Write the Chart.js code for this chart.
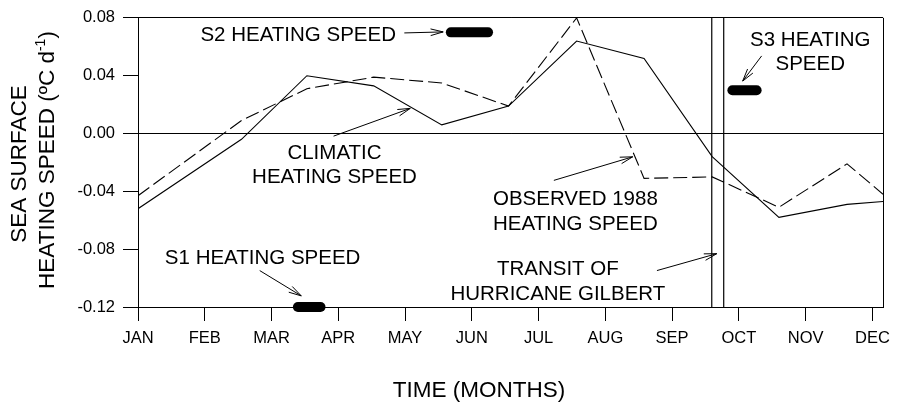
<!DOCTYPE html>
<html>
<head>
<meta charset="utf-8">
<script src="https://cdn.jsdelivr.net/npm/chart.js@4/dist/chart.umd.min.js"></script>
<style>
  html, body { margin: 0; padding: 0; background: #fff; }
  #wrap { width: 898px; height: 403px; }
</style>
</head>
<body>
<div id="wrap"><canvas id="c" width="898" height="403"></canvas></div>
<script>
// Month ticks along the time axis (0 = JAN ... 11 = DEC)
const monthLabels = ['JAN', 'FEB', 'MAR', 'APR', 'MAY', 'JUN', 'JUL', 'AUG', 'SEP', 'OCT', 'NOV', 'DEC'];
const timeMin = 0;
const timeMax = 11.16;

// Sample times (in months) shared by both heating-speed curves
const sampleTimes = [0, 1.55, 2.53, 3.53, 4.55, 5.55, 6.57, 7.58, 8.6, 9.6, 10.62, 11.16];

// Sea surface heating speed, degC per day
const climaticSpeed = [-0.052, -0.004, 0.040, 0.033, 0.006, 0.019, 0.064, 0.052, -0.016, -0.058, -0.049, -0.047];
const observed1988Speed = [-0.043, 0.009, 0.031, 0.039, 0.035, 0.019, 0.080, -0.031, -0.030, -0.051, -0.021, -0.042];

// Vertical axis ticks
const speedTicks = [-0.12, -0.08, -0.04, 0.00, 0.04, 0.08];

// Heating speeds of the three sub-periods: [start, end] in months and value
const s1Period = [2.395, 2.734];
const s1Speed = -0.12;
const s2Period = [4.686, 5.243];
const s2Speed = 0.070;
const s3Period = [8.903, 9.266];
const s3Speed = 0.030;

// Transit of Hurricane Gilbert: start and end of the band, in months
const gilbertTransit = [8.594, 8.773];

const FONT = '"Liberation Sans", Arial, Helvetica, sans-serif';

const toPoints = (xs, ys) => xs.map((x, i) => ({ x, y: ys[i] }));
const spanPoints = (span, v) => [{ x: span[0], y: v }, { x: span[1], y: v }];

// Callout labels (anchor in data units: month, speed) and arrows
const callouts = [
  { lines: ['S2 HEATING SPEED'], at: [2.40, 0.064] },
  { lines: ['S1 HEATING SPEED'], at: [1.867, -0.090] },
  { lines: ['CLIMATIC', 'HEATING SPEED'], at: [2.943, -0.0176] },
  { lines: ['OBSERVED 1988', 'HEATING SPEED'], at: [6.551, -0.0496] },
  { lines: ['TRANSIT OF', 'HURRICANE GILBERT'], at: [6.289, -0.0982] },
  { lines: ['S3 HEATING', 'SPEED'], at: [10.069, 0.0606] }
];
const arrows = [
  { from: [3.989, 0.0696], to: [4.571, 0.0703] },
  { from: [1.823, -0.0948], to: [2.445, -0.1123] },
  { from: [2.929, -0.0018], to: [4.078, 0.0174] },
  { from: [6.229, -0.0324], to: [7.410, -0.0161] },
  { from: [7.773, -0.0948], to: [8.669, -0.0831] },
  { from: [9.341, 0.0537], to: [9.057, 0.0363] }
];

const decorations = {
  id: 'decorations',
  afterDatasetsDraw(chart) {
    const { ctx, chartArea: a, scales: { x, y } } = chart;
    ctx.save();
    // right edge of the frame
    ctx.strokeStyle = '#000';
    ctx.lineWidth = 1;
    ctx.beginPath();
    ctx.moveTo(Math.round(a.right) + 0.5, a.top);
    ctx.lineTo(Math.round(a.right) + 0.5, a.bottom);
    ctx.stroke();

    // callout text
    ctx.fillStyle = '#000';
    ctx.font = '20.5px ' + FONT;
    ctx.textAlign = 'center';
    ctx.textBaseline = 'alphabetic';
    callouts.forEach(c => {
      const px = x.getPixelForValue(c.at[0]);
      const py = y.getPixelForValue(c.at[1]);
      c.lines.forEach((t, i) => ctx.fillText(t, px, py + i * 24.5));
    });

    // arrows with open heads
    ctx.lineWidth = 1;
    arrows.forEach(ar => {
      const x0 = x.getPixelForValue(ar.from[0]), y0 = y.getPixelForValue(ar.from[1]);
      const x1 = x.getPixelForValue(ar.to[0]), y1 = y.getPixelForValue(ar.to[1]);
      const ang = Math.atan2(y1 - y0, x1 - x0);
      const len = 13, spread = 0.26;
      ctx.beginPath();
      ctx.moveTo(x0, y0);
      ctx.lineTo(x1, y1);
      ctx.moveTo(x1 - len * Math.cos(ang - spread), y1 - len * Math.sin(ang - spread));
      ctx.lineTo(x1, y1);
      ctx.lineTo(x1 - len * Math.cos(ang + spread), y1 - len * Math.sin(ang + spread));
      ctx.stroke();
    });

    // axis titles
    ctx.font = '22.5px ' + FONT;
    ctx.textAlign = 'center';
    ctx.fillText('TIME (MONTHS)', 479, 396.5);

    ctx.save();
    ctx.translate(26, 164);
    ctx.rotate(-Math.PI / 2);
    ctx.fillText('SEA SURFACE', 0, 0);
    ctx.restore();

    // second line with superscript exponent
    const big = '22.5px ' + FONT, small = '14px ' + FONT;
    const parts = [
      { t: 'HEATING SPEED (\u00BAC d', f: big, dy: 0 },
      { t: '-1', f: small, dy: -9 },
      { t: ')', f: big, dy: 0 }
    ];
    let total = 0;
    parts.forEach(p => { ctx.font = p.f; p.w = ctx.measureText(p.t).width; total += p.w; });
    ctx.save();
    ctx.translate(53.5, 160);
    ctx.rotate(-Math.PI / 2);
    ctx.textAlign = 'left';
    let cx = -total / 2;
    parts.forEach(p => { ctx.font = p.f; ctx.fillText(p.t, cx, p.dy); cx += p.w; });
    ctx.restore();

    ctx.restore();
  }
};

const pill = (span, v) => ({
  data: spanPoints(span, v),
  borderColor: '#000',
  borderWidth: 10,
  borderCapStyle: 'round',
  pointRadius: 0,
  clip: false
});
const band = (t) => ({
  data: [{ x: t, y: speedTicks[0] }, { x: t, y: speedTicks[speedTicks.length - 1] }],
  borderColor: '#000',
  borderWidth: 1.2,
  pointRadius: 0
});

new Chart(document.getElementById('c'), {
  type: 'line',
  data: {
    datasets: [
      {
        label: 'Climatic heating speed',
        data: toPoints(sampleTimes, climaticSpeed),
        borderColor: '#000',
        borderWidth: 1.1,
        pointRadius: 0,
        tension: 0
      },
      {
        label: 'Observed 1988 heating speed',
        data: toPoints(sampleTimes, observed1988Speed),
        borderColor: '#000',
        borderWidth: 1.1,
        borderDash: [14, 5],
        pointRadius: 0,
        tension: 0
      },
      band(gilbertTransit[0]),
      band(gilbertTransit[1]),
      pill(s1Period, s1Speed),
      pill(s2Period, s2Speed),
      pill(s3Period, s3Speed)
    ]
  },
  options: {
    responsive: false,
    animation: false,
    events: [],
    layout: { autoPadding: false, padding: { top: 13, right: 13, left: 0, bottom: 0 } },
    plugins: { legend: { display: false }, tooltip: { enabled: false } },
    scales: {
      x: {
        type: 'linear',
        min: timeMin,
        max: timeMax,
        afterBuildTicks: s => { s.ticks = monthLabels.map((_, i) => ({ value: i })); },
        afterFit: s => { s.height = 96; },
        ticks: {
          color: '#000',
          font: { family: FONT, size: 16.5 },
          padding: 8,
          maxRotation: 0,
          autoSkip: false,
          callback: v => monthLabels[v]
        },
        grid: { drawOnChartArea: false, tickLength: 14, tickColor: '#000', color: '#000' },
        border: { color: '#000', width: 1 }
      },
      y: {
        min: speedTicks[0],
        max: speedTicks[speedTicks.length - 1],
        afterBuildTicks: s => { s.ticks = speedTicks.map(v => ({ value: v })); },
        afterFit: s => { s.width = 138; },
        ticks: {
          color: '#000',
          font: { family: FONT, size: 16.5 },
          padding: 8,
          callback: v => v.toFixed(2)
        },
        grid: {
          drawOnChartArea: true,
          tickLength: 15,
          tickColor: '#000',
          color: c => (c.tick && (Math.abs(c.tick.value) < 1e-9 || c.tick.value === speedTicks[speedTicks.length - 1])) ? '#000' : 'rgba(0,0,0,0)'
        },
        border: { color: '#000', width: 1 }
      }
    }
  },
  plugins: [decorations]
});
</script>
</body>
</html>
